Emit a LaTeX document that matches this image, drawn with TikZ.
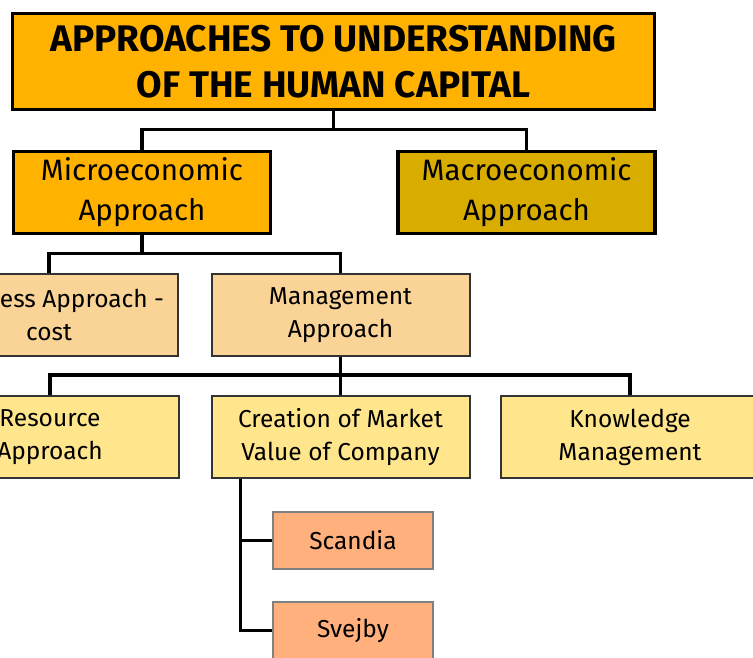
\documentclass[tikz,border=0pt]{standalone}
\usepackage{fontspec}
\setmainfont{Fira Sans}
\definecolor{amber}{HTML}{FFB300}
\definecolor{gold}{HTML}{D8AD00}
\definecolor{peach}{HTML}{F9D496}
\definecolor{lightyellow}{HTML}{FFE68C}
\definecolor{salmon}{HTML}{FFB07C}
\begin{document}
\begin{tikzpicture}
        [x=1pt,y=-1pt,
        top/.style ={draw,line width=3.5pt,fill=amber,minimum width=642pt,minimum height=96pt,align=center,font=\bfseries\fontsize{37}{46}\selectfont},
        level1/.style ={draw,line width=3.5pt,minimum width=257pt,minimum height=82pt,align=center,font=\fontsize{29.5}{40}\selectfont},
        level2/.style ={draw=black!80,line width=2pt,fill=peach,minimum width=258pt,minimum height=82pt,align=center,font=\fontsize{24.5}{33}\selectfont},
        level3/.style ={level2,fill=lightyellow},
        level4/.style ={draw=gray,line width=2pt,fill=salmon,minimum width=160pt,minimum height=57pt,font=\fontsize{24.5}{28}\selectfont},
        link/.style ={line width=3.5pt}]
        \useasboundingbox (0,0) rectangle (753,657);
        \clip (0,0) rectangle (753,657);
        \node[top] (title) at (333.5,61.5){APPROACHES TO UNDERSTANDING\\OF THE HUMAN CAPITAL};
        \node[level1,fill=amber] (micro) at (142,192.5){Microeconomic\\Approach};
        \node[level1,fill=gold] (macro) at (526.5,192.5){Macroeconomic\\Approach};
        \node[level2] (cost) at (49,315){\hspace*{66pt}ess Approach -\\cost};
        \node[level2] (manage) at (340.5,315){Management\\Approach};
        \node[level3] (resource) at (50,437){Resource\\Approach};
        \node[level3] (market) at (340.5,437){Creation of Market\\Value of Company};
        \node[level3] (knowledge) at (630,437){Knowledge\\Management};
        \node[level4] (scandia) at (353,540.5){Scandia};
        \node[level4] (svejby) at (353,630.5){Svejby};
        \draw[link] (title.south) -- ++(0,18) coordinate (j1) -| (micro.north) (j1) -| (macro.north);
        \draw[link] (micro.south) -- ++(0,18) coordinate (j2) -| (cost.north) (j2) -| (manage.north);
        \draw[link] (manage.south) -- ++(0,18) coordinate (j3) -| (resource.north) (j3) -| (market.north) (j3) -| (knowledge.north);
        \draw[link] ([xshift=30pt]market.south west) |- (scandia.west) ([xshift=30pt]market.south west) |- (svejby.west);
    \end{tikzpicture}
\end{document}
